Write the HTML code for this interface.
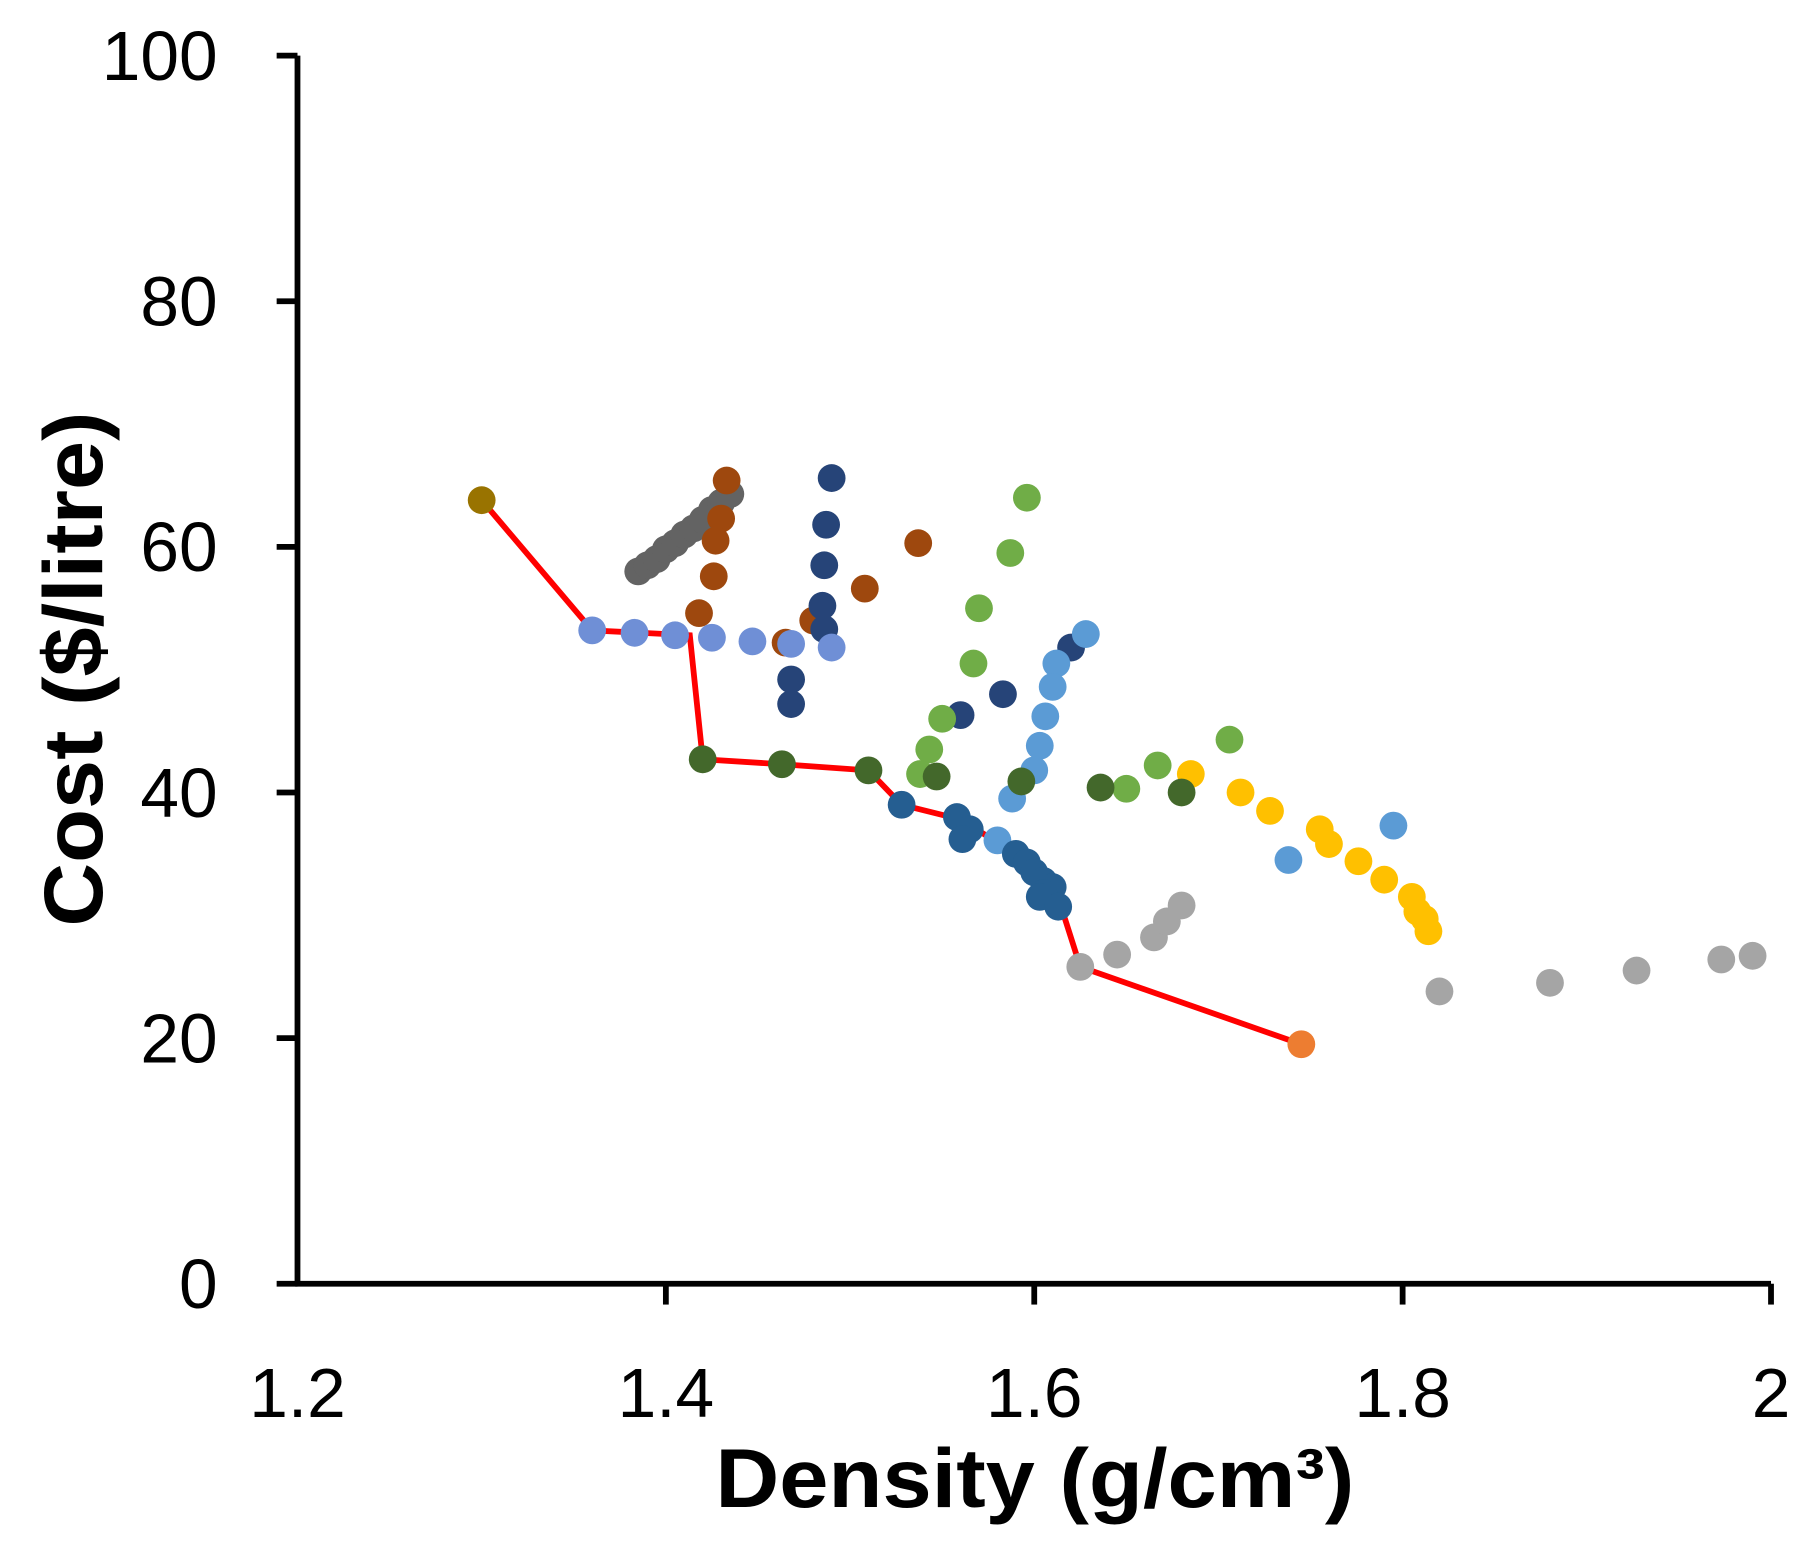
<!DOCTYPE html>
<html><head><meta charset="utf-8"><style>
html,body{margin:0;padding:0;background:#fff;}
svg{display:block;font-family:"Liberation Sans","DejaVu Sans",sans-serif;}
</style></head><body>
<svg id="chart" width="1815" height="1550" viewBox="0 0 1568 1339" xmlns="http://www.w3.org/2000/svg">
<g id="axes"></g>
<g id="marks"></g>
<text transform="translate(88,578) rotate(-90)" text-anchor="middle" font-size="72" font-weight="bold" textLength="445" lengthAdjust="spacingAndGlyphs">Cost ($/litre)</text>
<text x="894" y="1302" text-anchor="middle" font-size="72" font-weight="bold" textLength="552" lengthAdjust="spacingAndGlyphs">Density (g/cm³)</text>
</svg>
<script>
const xTicks=[1.2,1.4,1.6,1.8,2];
const xTickLabels=["1.2","1.4","1.6","1.8","2"];
const yTicks=[0,20,40,60,80,100];
const yTickLabels=["0","20","40","60","80","100"];
const redLineX=[1.30,1.36,1.413,1.42,1.463,1.51,1.528,1.56,1.59,1.61,1.615,1.625,1.745];
const redLineY=[63.8,53.2,52.8,42.7,42.3,41.8,39,37.8,35,31,30.5,25.8,19.5];
const oliveX=[1.30],oliveY=[63.8];
const orangeX=[1.745],orangeY=[19.5];
const darkGrayX=[1.385,1.39,1.395,1.40,1.405,1.41,1.415,1.42,1.425,1.43,1.435];
const darkGrayY=[58,58.5,59,59.8,60.3,61,61.5,62.2,63,63.6,64.3];
const brownX=[1.433,1.43,1.427,1.426,1.418,1.465,1.48,1.508,1.537];
const brownY=[65.4,62.3,60.5,57.6,54.6,52.2,54,56.6,60.3];
const navyX=[1.49,1.487,1.486,1.485,1.486,1.468,1.468,1.56,1.583,1.62];
const navyY=[65.6,61.8,58.5,55.2,53.3,49.2,47.2,46.3,48,51.8];
const periwinkleX=[1.36,1.383,1.405,1.425,1.447,1.468,1.49];
const periwinkleY=[53.2,53,52.8,52.6,52.3,52.1,51.8];
const greenX=[1.596,1.587,1.57,1.567,1.55,1.543,1.538,1.667,1.65,1.706];
const greenY=[64,59.5,55,50.5,46,43.5,41.5,42.2,40.3,44.3];
const darkGreenX=[1.42,1.463,1.51,1.547,1.593,1.636,1.68];
const darkGreenY=[42.7,42.3,41.8,41.3,40.9,40.4,40];
const lightBlueX=[1.628,1.612,1.61,1.606,1.603,1.6,1.588,1.58,1.738,1.795];
const lightBlueY=[52.9,50.5,48.6,46.2,43.8,41.8,39.5,36.1,34.5,37.3];
const steelX=[1.528,1.558,1.565,1.561,1.59,1.596,1.6,1.605,1.61,1.605,1.603,1.613];
const steelY=[39,38,37,36.2,35,34.3,33.5,32.8,32.3,31.8,31.5,30.7];
const goldX=[1.685,1.712,1.728,1.755,1.76,1.776,1.79,1.805,1.808,1.812,1.814];
const goldY=[41.5,40,38.5,37,35.8,34.4,32.9,31.5,30.3,29.7,28.7];
const lightGrayX=[1.625,1.645,1.665,1.672,1.68,1.82,1.88,1.927,1.973,1.99];
const lightGrayY=[25.8,26.8,28.2,29.5,30.8,23.8,24.5,25.5,26.4,26.7];

const NS="http://www.w3.org/2000/svg";
const X0=257,X1=1530,Y0=1109,Y1=48;
function sx(v){return X0+(v-1.2)/0.8*(X1-X0);}
function sy(v){return Y0-(v/100)*(Y0-Y1);}
function mk(tag,attrs,parent){const e=document.createElementNS(NS,tag);for(const k in attrs)e.setAttribute(k,attrs[k]);parent.appendChild(e);return e;}
const axes=document.getElementById('axes'),marks=document.getElementById('marks');
let l=mk('line',{x1:X0,y1:Y1,x2:X0,y2:Y0+2,stroke:'#000','stroke-width':5},axes);


l=mk('line',{x1:X0-2,y1:Y0,x2:X1,y2:Y0,stroke:'#000','stroke-width':5},axes);


yTicks.forEach((v,i)=>{
  const t=mk('line',{x1:X0-18,y1:sy(v),x2:X0,y2:sy(v),stroke:'#000','stroke-width':5},axes);
  
  
  const tx=mk('text',{x:188,y:sy(v)+21,'text-anchor':'end','font-size':60},axes);
  tx.textContent=yTickLabels[i];
  
  
});
xTicks.forEach((v,i)=>{
  if(i>0){const t=mk('line',{x1:sx(v),y1:Y0,x2:sx(v),y2:Y0+18,stroke:'#000','stroke-width':5},axes);
  
  }
  const tx=mk('text',{x:sx(v),y:1224,'text-anchor':'middle','font-size':60},axes);
  tx.textContent=xTickLabels[i];
  
  
});
const pl=mk('polyline',{points:redLineX.map((x,i)=>sx(x)+','+sy(redLineY[i])).join(' '),fill:'none',stroke:'#ff0000','stroke-width':5},marks);


const series=[
 ['dark-gray',darkGrayX,darkGrayY,'#636363'],
 ['brown',brownX,brownY,'#9e480e'],
 ['navy',navyX,navyY,'#264478'],
 ['green',greenX,greenY,'#70ad47'],
 ['light-blue',lightBlueX,lightBlueY,'#5b9bd5'],
 ['gold',goldX,goldY,'#ffc000'],
 ['light-gray',lightGrayX,lightGrayY,'#a5a5a5'],
 ['steel-blue',steelX,steelY,'#255e91'],
 ['dark-green',darkGreenX,darkGreenY,'#43682b'],
 ['periwinkle',periwinkleX,periwinkleY,'#6f8fd6'],
 ['olive',oliveX,oliveY,'#997300'],
 ['orange',orangeX,orangeY,'#ed7d31']
];
series.forEach(s=>{
  s[1].forEach((x,i)=>{
    const c=mk('circle',{cx:sx(x),cy:sy(s[2][i]),r:12,fill:s[3]},marks);
    
    
  });
});
</script>
</body></html>
